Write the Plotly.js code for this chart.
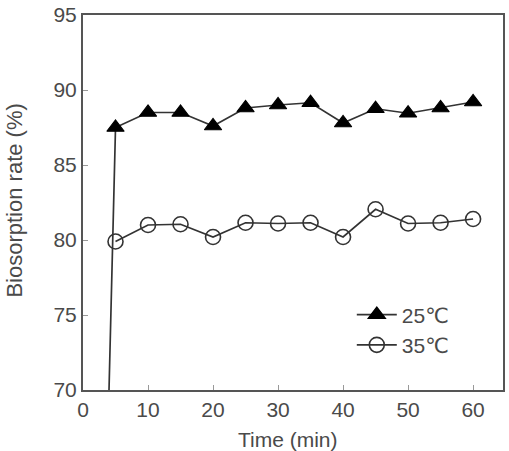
<!DOCTYPE html>
<html>
<head>
<meta charset="utf-8">
<script src="https://cdn.plot.ly/plotly-3.0.1.min.js"></script>
<style>
  html, body { margin: 0; padding: 0; background: #fff; }
  #chart { width: 509px; height: 451px; }
</style>
</head>
<body>
<div id="chart"></div>
<script>
// Biosorption rate over contact time at two temperatures
const time25 = [0, 5, 10, 15, 20, 25, 30, 35, 40, 45, 50, 55, 60];
const rate25 = [0, 87.5, 88.5, 88.5, 87.6, 88.8, 89.0, 89.15, 87.8, 88.75, 88.45, 88.8, 89.2];

const time35 = [5, 10, 15, 20, 25, 30, 35, 40, 45, 50, 55, 60];
const rate35 = [79.9, 81.0, 81.05, 80.2, 81.15, 81.1, 81.15, 80.2, 82.05, 81.1, 81.15, 81.4];

const seriesNames = ['25\u2103', '35\u2103'];
const xTicks = [0, 10, 20, 30, 40, 50, 60];
const yTicks = [70, 75, 80, 85, 90, 95];
const xTitle = 'Time (min)';
const yTitle = 'Biosorption rate (%)';

const FONT = 'Liberation Sans, Arial, DejaVu Sans, sans-serif';
const TEXT = '#4a4a4a';

const traces = [
  {
    x: time25, y: rate25, name: seriesNames[0],
    type: 'scatter', mode: 'lines+markers',
    line: { color: '#333333', width: 1.7 },
    marker: { symbol: 'triangle-up', size: 15, color: '#000000',
              line: { color: '#000000', width: 1.2 } }
  },
  {
    x: time35, y: rate35, name: seriesNames[1],
    type: 'scatter', mode: 'lines+markers',
    line: { color: '#333333', width: 1.7 },
    marker: { symbol: 'circle-open', size: 15, color: '#333333',
              line: { color: '#333333', width: 1.6 } }
  }
];

const axisCommon = {
  showgrid: false, zeroline: false,
  showline: true, linecolor: '#555555', linewidth: 2, mirror: true,
  ticks: 'inside', ticklen: 5, tickwidth: 1, tickcolor: '#999999',
  tickfont: { family: FONT, size: 21, color: TEXT }
};

const layout = {
  width: 509, height: 451,
  margin: { l: 83, r: 6, t: 15, b: 61 },
  paper_bgcolor: '#ffffff', plot_bgcolor: '#ffffff',
  showlegend: true,
  legend: {
    x: 0.64, xanchor: 'left', y: 0.255, yanchor: 'top',
    itemwidth: 40,
    bgcolor: 'rgba(0,0,0,0)', borderwidth: 0,
    font: { family: FONT, size: 21, color: TEXT }
  },
  xaxis: Object.assign({}, axisCommon, { range: [0, 64.6], tickvals: xTicks }),
  yaxis: Object.assign({}, axisCommon, { range: [70, 95], tickvals: yTicks }),
  // axis titles placed as paper-anchored labels so they sit further out
  annotations: [
    {
      text: xTitle, xref: 'paper', yref: 'paper', x: 0.487, y: -0.132,
      xanchor: 'center', yanchor: 'middle', showarrow: false,
      font: { family: FONT, size: 21, color: TEXT }
    },
    {
      text: yTitle, xref: 'paper', yref: 'paper', x: -0.162, y: 0.505,
      xanchor: 'center', yanchor: 'middle', textangle: -90, showarrow: false,
      font: { family: FONT, size: 22, color: TEXT }
    }
  ]
};

Plotly.newPlot('chart', traces, layout, { staticPlot: true, displayModeBar: false });
</script>
</body>
</html>
